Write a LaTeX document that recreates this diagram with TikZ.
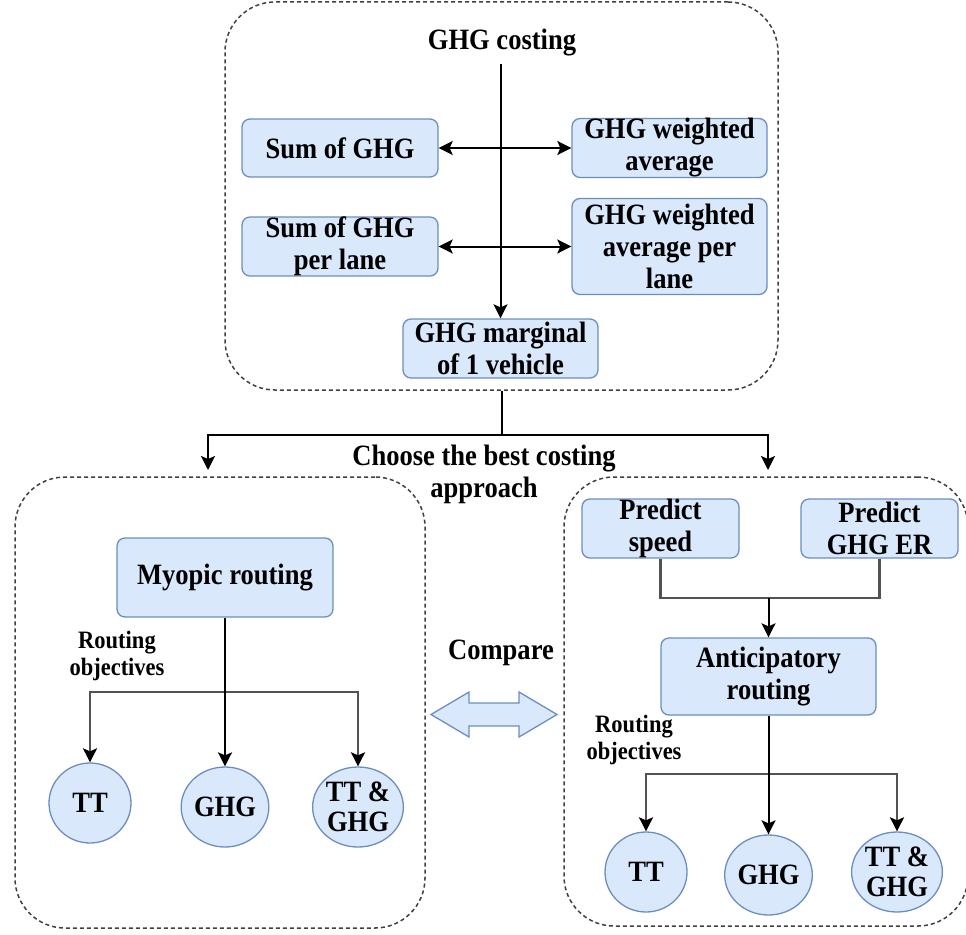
\documentclass[tikz,border=0pt]{standalone}
\usepackage{fontspec}
\setmainfont[FakeStretch=0.9]{Liberation Serif}
\usetikzlibrary{shapes.geometric,arrows.meta}
\definecolor{boxfill}{HTML}{DAE8FC}
\definecolor{boxline}{HTML}{6C8EBF}
\begin{document}
\begin{tikzpicture}[x=1pt,y=-1pt,
  mainfont/.style={font=\bfseries\fontsize{29.5}{32}\selectfont},
  box/.style={draw=boxline, fill=boxfill, rounded corners=8pt, line width=1.3pt, inner sep=0pt, align=center, mainfont},
  circ/.style={ellipse, draw=boxline, fill=boxfill, line width=1.3pt, inner sep=0pt, minimum width=82pt, minimum height=80pt, align=center, font=\bfseries\fontsize{29.5}{30}\selectfont},
  group/.style={draw=black!75, dash pattern=on 4pt off 3pt, line width=1.5pt, rounded corners=50pt, inner sep=0pt},
  lbl/.style={mainfont, align=center, inner sep=0pt},
  small/.style={font=\bfseries\fontsize{25}{27}\selectfont, align=center, inner sep=0pt},
  conn/.style={line width=2pt, draw=black},
  gconn/.style={line width=2.4pt, draw=black!68},
  arr/.style={conn, -{Stealth[length=14pt,width=14pt,inset=3pt]}},
  garr/.style={gconn, {Stealth[length=14pt,width=14pt,inset=3pt,black]}-{Stealth[length=14pt,width=14pt,inset=3pt,black]}},
  darr/.style={conn, {Stealth[length=14pt,width=14pt,inset=3pt]}-{Stealth[length=14pt,width=14pt,inset=3pt]}}
]
\useasboundingbox (0,0) rectangle (966,934);

% group frames
\node[group, minimum width=553pt, minimum height=388pt] (top) at (501.5,196) {};
\node[group, minimum width=410pt, minimum height=451pt] (left) at (220,702.5) {};
\node[group, minimum width=404pt, minimum height=449pt] (right) at (766,701.5) {};

% top part
\node[lbl] (costing) at (502,43) {GHG costing};
\node[box, minimum width=196pt, minimum height=58pt] (sum) at (340,148) {Sum of GHG};
\node[box, minimum width=195pt, minimum height=58pt] (wavg) at (669.5,148) {GHG weighted\\average};
\node[box, minimum width=196pt, minimum height=59pt] (sumlane) at (340,246.5) {Sum of GHG\\per lane};
\node[box, minimum width=195pt, minimum height=96pt] (wavglane) at (669.5,246.5) {GHG weighted\\average per\\lane};
\node[box, minimum width=195pt, minimum height=59pt] (marg) at (500.5,348.5) {GHG marginal\\of 1 vehicle};

\draw[arr, shorten <=7pt] (marg.north |- costing.south) -- (marg.north);
\draw[darr] (sum.east) -- (wavg.west);
\draw[darr] (sumlane.east) -- (sumlane.east -| wavglane.west);

% split
\coordinate (al) at (208,470);
\coordinate (ar) at (768,470);
\draw[arr] (top.south) -- ++(0,44) -| (al);
\draw[arr] (top.south) ++(0,44) -| (ar);
\node[lbl] (choose) at (484,474) {Choose the best costing\\approach};

% left part
\node[box, minimum width=216pt, minimum height=79pt] (myopic) at (225,577.5) {Myopic routing};
\node[small] (lro) at (117,656) {Routing\\objectives};
\node[circ] (ltt) at (90,803) {TT};
\node[circ] (lghg) at (225,807) {GHG};
\node[circ] (ltg) at (358,807) {TT \&\\GHG};
\draw[garr] (ltt.north) |- (ltg.north |- 0,692) -- (ltg.north);
\draw[arr] (myopic.south) -- (lghg.north);

% compare
\node[lbl] (compare) at (501,653) {Compare};
\draw[draw=boxline, fill=boxfill, line width=1.3pt, line join=miter]
  (431,714.5) -- (469,692) -- (469,703) -- (519,703) -- (519,692) -- (557,714.5)
  -- (519,737) -- (519,726) -- (469,726) -- (469,737) -- cycle;

% right part
\node[box, minimum width=157pt, minimum height=59pt] (ps) at (660.5,528.5) {Predict\\speed};
\node[box, minimum width=157pt, minimum height=59pt] (pg) at (879.5,528.5) {Predict\\GHG ER};
\node[box, minimum width=215pt, minimum height=77pt] (ant) at (768.5,676.5) {Anticipatory\\routing};
\draw[gconn] (ps.south) |- (pg.south |- 0,598) -- (pg.south);
\draw[arr] (ant.north |- 0,598) -- (ant.north);
\node[small] (rro) at (634,740) {Routing\\objectives};
\node[circ] (rtt) at (646,872) {TT};
\node[circ] (rghg) at (768.5,875) {GHG};
\node[circ] (rtg) at (897,872) {TT \&\\GHG};
\draw[garr] (rtt.north) |- (rtg.north |- 0,774) -- (rtg.north);
\draw[arr] (ant.south) -- (rghg.north);
\end{tikzpicture}
\end{document}
